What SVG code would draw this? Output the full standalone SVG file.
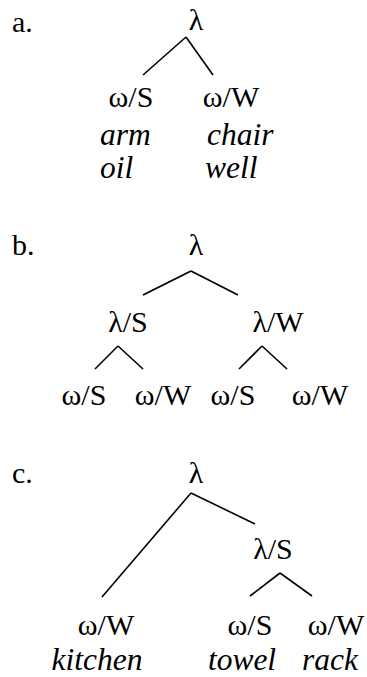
<svg xmlns="http://www.w3.org/2000/svg" width="367" height="677" viewBox="0 0 367 677">
<style>
text{font-family:"Liberation Serif","Times New Roman",serif;font-size:30px;fill:#000}
.it{font-style:italic;font-size:31.5px}
line{stroke:#000;stroke-width:1.6}
</style>
<rect width="367" height="677" fill="#fff"/>
<g id="labels">
<text x="12" y="32">a.</text>
<text x="12" y="255">b.</text>
<text x="12" y="483">c.</text>
</g>
<g id="a-root"><text x="196" y="30" text-anchor="middle">λ</text></g>
<g id="a-s"><text x="131" y="107" text-anchor="middle">ω/S</text><text class="it" x="100" y="145">arm</text><text class="it" x="100" y="178">oil</text></g>
<g id="a-w"><text x="231" y="107" text-anchor="middle">ω/W</text><text class="it" x="207" y="145">chair</text><text class="it" x="205" y="178">well</text></g>
<g id="b-root"><text x="196" y="255" text-anchor="middle">λ</text></g>
<g id="b-ls"><text x="128" y="332" text-anchor="middle">λ/S</text></g>
<g id="b-lw"><text x="278" y="332" text-anchor="middle">λ/W</text></g>
<g id="b-ws1"><text x="84" y="405" text-anchor="middle">ω/S</text></g>
<g id="b-ww1"><text x="163" y="405" text-anchor="middle">ω/W</text></g>
<g id="b-ws2"><text x="233" y="405" text-anchor="middle">ω/S</text></g>
<g id="b-ww2"><text x="320" y="405" text-anchor="middle">ω/W</text></g>
<g id="c-root"><text x="196" y="483" text-anchor="middle">λ</text></g>
<g id="c-ls"><text x="273" y="559" text-anchor="middle">λ/S</text></g>
<g id="c-ww1"><text x="106" y="635" text-anchor="middle">ω/W</text><text class="it" x="97" y="670" text-anchor="middle">kitchen</text></g>
<g id="c-ws"><text x="250" y="635" text-anchor="middle">ω/S</text><text class="it" x="242" y="670" text-anchor="middle">towel</text></g>
<g id="c-ww2"><text x="336" y="635" text-anchor="middle">ω/W</text><text class="it" x="330" y="670" text-anchor="middle">rack</text></g>
<g id="connectors">
<line x1="186" y1="37" x2="143" y2="75"/>
<line x1="186" y1="37" x2="213" y2="75"/>
<line x1="191" y1="271" x2="143" y2="295"/>
<line x1="191" y1="271" x2="238" y2="295"/>
<line x1="118" y1="346" x2="95" y2="369"/>
<line x1="118" y1="346" x2="143" y2="369"/>
<line x1="262" y1="346" x2="239" y2="369"/>
<line x1="262" y1="346" x2="287" y2="369"/>
<line x1="191" y1="493" x2="102" y2="597"/>
<line x1="191" y1="493" x2="255" y2="524"/>
<line x1="280" y1="573" x2="250" y2="596"/>
<line x1="280" y1="573" x2="312" y2="596"/>
</g>
</svg>
